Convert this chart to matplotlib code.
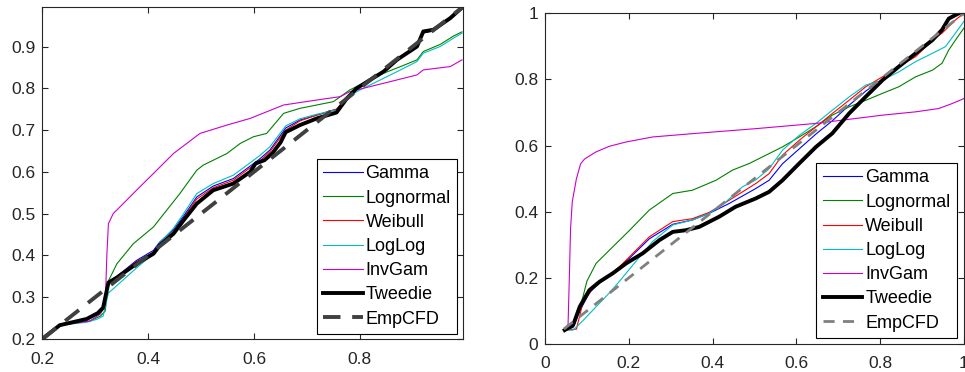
"""
P-P plots of fitted distributions against the empirical CDF (two panels).
"""

import numpy as np
import matplotlib.pyplot as plt

plt.rcParams["font.family"] = ["Liberation Sans", "DejaVu Sans"]

# ------------------------------------------------------------
# Data: left panel
# ------------------------------------------------------------

series_names = ["Gamma", "Lognormal", "Weibull", "LogLog", "InvGam", "Tweedie", "EmpCFD"]

left_x_tw = [0.2, 0.233, 0.284, 0.305, 0.315, 0.325, 0.341, 0.378, 0.41, 0.422, 0.448,
             0.467, 0.492, 0.523, 0.561, 0.593, 0.603, 0.62, 0.635, 0.65, 0.66, 0.687,
             0.719, 0.756, 0.775, 0.794, 0.845, 0.87, 0.908, 0.92, 0.939, 0.971, 0.993]
left_tweedie = [0.2, 0.233, 0.248, 0.262, 0.275, 0.335, 0.347, 0.38, 0.404, 0.424, 0.452,
                0.484, 0.524, 0.556, 0.572, 0.6, 0.62, 0.628, 0.645, 0.67, 0.695, 0.712,
                0.728, 0.742, 0.775, 0.8, 0.84, 0.868, 0.9, 0.936, 0.94, 0.968, 0.993]

left_x_fit = [0.2, 0.233, 0.284, 0.305, 0.315, 0.325, 0.341, 0.378, 0.41, 0.422, 0.448,
              0.467, 0.492, 0.523, 0.561, 0.593, 0.61, 0.63, 0.66, 0.687, 0.719, 0.756,
              0.775, 0.794, 0.845, 0.87, 0.908, 0.92, 0.939, 0.971, 0.993]
left_gamma = [0.2, 0.233, 0.246, 0.26, 0.272, 0.33, 0.35, 0.388, 0.412, 0.432, 0.462,
              0.494, 0.54, 0.566, 0.584, 0.614, 0.63, 0.652, 0.705, 0.724, 0.736, 0.75,
              0.776, 0.8, 0.838, 0.866, 0.9, 0.932, 0.938, 0.966, 0.991]
left_weibull = [0.2, 0.233, 0.246, 0.26, 0.272, 0.33, 0.35, 0.385, 0.408, 0.428, 0.458,
                0.49, 0.535, 0.562, 0.58, 0.61, 0.625, 0.648, 0.7, 0.722, 0.736, 0.75,
                0.778, 0.802, 0.84, 0.868, 0.9, 0.934, 0.94, 0.967, 0.992]

left_x_ll = [0.2, 0.233, 0.284, 0.305, 0.315, 0.325, 0.341, 0.378, 0.41, 0.422, 0.448,
             0.467, 0.492, 0.523, 0.561, 0.593, 0.61, 0.63, 0.66, 0.687, 0.719, 0.756,
             0.775, 0.794, 0.845, 0.877, 0.908, 0.92, 0.952, 0.977, 0.993]
left_loglog = [0.2, 0.233, 0.24, 0.248, 0.255, 0.31, 0.328, 0.37, 0.404, 0.43, 0.465,
               0.5, 0.548, 0.572, 0.592, 0.622, 0.638, 0.66, 0.71, 0.727, 0.738, 0.748,
               0.772, 0.792, 0.824, 0.844, 0.864, 0.884, 0.9, 0.92, 0.932]

left_x_ln = [0.2, 0.233, 0.29, 0.31, 0.319, 0.325, 0.341, 0.372, 0.41, 0.435, 0.46,
             0.492, 0.504, 0.549, 0.574, 0.599, 0.624, 0.656, 0.687, 0.75, 0.781, 0.845,
             0.877, 0.908, 0.92, 0.952, 0.977, 0.993]
left_lognormal = [0.2, 0.233, 0.243, 0.255, 0.267, 0.339, 0.38, 0.428, 0.468, 0.508, 0.548,
                  0.604, 0.616, 0.644, 0.668, 0.684, 0.692, 0.74, 0.752, 0.768, 0.796, 0.836,
                  0.852, 0.868, 0.888, 0.905, 0.925, 0.935]

left_x_ig = [0.2, 0.233, 0.29, 0.31, 0.319, 0.322, 0.325, 0.334, 0.353, 0.378, 0.41,
             0.448, 0.473, 0.498, 0.549, 0.593, 0.656, 0.719, 0.763, 0.781, 0.845, 0.908,
             0.92, 0.971, 0.993]
left_invgam = [0.2, 0.233, 0.243, 0.26, 0.283, 0.4, 0.476, 0.5, 0.524, 0.556, 0.596,
               0.644, 0.668, 0.692, 0.712, 0.728, 0.76, 0.772, 0.78, 0.792, 0.812, 0.832,
               0.844, 0.852, 0.868]

left_emp = [0.2, 0.995]

# ------------------------------------------------------------
# Data: right panel
# ------------------------------------------------------------

right_x_tw = [0.047, 0.067, 0.083, 0.106, 0.13, 0.162, 0.194, 0.233, 0.273, 0.305, 0.336,
              0.368, 0.416, 0.455, 0.503, 0.535, 0.567, 0.607, 0.647, 0.686, 0.726, 0.766,
              0.806, 0.845, 0.885, 0.925, 0.948, 0.964, 0.988, 1.0]
right_tweedie = [0.042, 0.057, 0.113, 0.163, 0.188, 0.214, 0.244, 0.274, 0.314, 0.339, 0.344,
                 0.354, 0.385, 0.415, 0.44, 0.46, 0.495, 0.546, 0.596, 0.637, 0.697, 0.748,
                 0.798, 0.839, 0.879, 0.919, 0.95, 0.984, 1.0, 1.0]

right_x_ga = [0.047, 0.067, 0.083, 0.106, 0.13, 0.162, 0.202, 0.249, 0.305, 0.352, 0.392,
              0.44, 0.503, 0.535, 0.567, 0.607, 0.647, 0.686, 0.726, 0.766, 0.806, 0.845,
              0.885, 0.925, 0.948, 0.964, 0.988, 1.0]
right_gamma = [0.042, 0.05, 0.1, 0.155, 0.185, 0.214, 0.26, 0.318, 0.362, 0.375, 0.395,
               0.425, 0.47, 0.495, 0.545, 0.59, 0.635, 0.675, 0.722, 0.765, 0.8, 0.84,
               0.879, 0.919, 0.948, 0.98, 1.0, 1.0]

right_x_wb = [0.047, 0.075, 0.09, 0.122, 0.162, 0.202, 0.249, 0.305, 0.352, 0.392, 0.44,
              0.503, 0.535, 0.567, 0.607, 0.647, 0.686, 0.726, 0.766, 0.806, 0.845, 0.885,
              0.925, 0.948, 0.98, 1.0]
right_weibull = [0.042, 0.045, 0.123, 0.183, 0.214, 0.264, 0.324, 0.37, 0.379, 0.398, 0.435,
                 0.485, 0.515, 0.571, 0.616, 0.657, 0.697, 0.737, 0.778, 0.808, 0.839, 0.869,
                 0.919, 0.94, 0.98, 1.0]

right_x_ll = [0.047, 0.067, 0.09, 0.12, 0.154, 0.178, 0.217, 0.257, 0.305, 0.352, 0.392,
              0.432, 0.471, 0.503, 0.535, 0.567, 0.607, 0.647, 0.686, 0.726, 0.766, 0.806,
              0.845, 0.885, 0.925, 0.956, 0.98, 1.0]
right_loglog = [0.042, 0.042, 0.07, 0.11, 0.155, 0.19, 0.25, 0.31, 0.36, 0.375, 0.395,
                0.43, 0.475, 0.496, 0.53, 0.586, 0.631, 0.667, 0.707, 0.747, 0.783, 0.798,
                0.823, 0.854, 0.879, 0.899, 0.94, 0.975]

right_x_ln = [0.047, 0.067, 0.08, 0.09, 0.1, 0.122, 0.154, 0.202, 0.249, 0.305, 0.352,
              0.408, 0.448, 0.488, 0.567, 0.607, 0.647, 0.686, 0.726, 0.766, 0.806, 0.845,
              0.885, 0.925, 0.948, 0.964, 0.98, 1.0]
right_lognormal = [0.042, 0.06, 0.1, 0.14, 0.19, 0.244, 0.284, 0.344, 0.405, 0.455, 0.465,
                   0.495, 0.526, 0.546, 0.596, 0.626, 0.657, 0.692, 0.717, 0.737, 0.758, 0.778,
                   0.808, 0.828, 0.849, 0.889, 0.919, 0.955]

right_x_ig = [0.047, 0.055, 0.058, 0.061, 0.065, 0.075, 0.085, 0.095, 0.122, 0.154, 0.194,
              0.257, 0.352, 0.502, 0.647, 0.806, 0.885, 0.94, 0.972, 1.0]
right_invgam = [0.042, 0.06, 0.2, 0.35, 0.43, 0.5, 0.545, 0.56, 0.581, 0.598, 0.611,
                0.626, 0.636, 0.651, 0.667, 0.692, 0.702, 0.712, 0.727, 0.742]

right_emp = [0.045, 1.0]

# ------------------------------------------------------------
# Style
# ------------------------------------------------------------

c_gamma = "#0000ff"
c_lognormal = "#008000"
c_weibull = "#ff0000"
c_loglog = "#00bfbf"
c_invgam = "#cc00cc"
c_axis = "#262626"


def style_axes(ax, xticks, xlabels, yticks, ylabels):
    ax.set_xticks(xticks)
    ax.set_xticklabels(xlabels)
    ax.set_yticks(yticks)
    ax.set_yticklabels(ylabels)
    ax.tick_params(direction="in", length=4, width=0.8, top=True, right=True,
                   labelsize=12.5, colors=c_axis)
    ax.tick_params(axis="x", pad=9)
    ax.tick_params(axis="y", pad=5)
    for s in ax.spines.values():
        s.set_color(c_axis)
        s.set_linewidth(0.8)


legend_kw = dict(loc="lower right", borderaxespad=0, fontsize=13, handlelength=2.2,
                 handletextpad=0.15, labelspacing=0.4, borderpad=0.35, fancybox=False,
                 framealpha=1, edgecolor="black")

fig = plt.figure(figsize=(9.65, 3.72), dpi=100)

# ------------------------------------------------------------
# Left panel
# ------------------------------------------------------------

ax1 = fig.add_axes([0.0438, 0.0887, 0.436, 0.893])
ax1.plot(left_x_fit, left_gamma, color=c_gamma, lw=0.8, label=series_names[0])
ax1.plot(left_x_ln, left_lognormal, color=c_lognormal, lw=0.8, label=series_names[1])
ax1.plot(left_x_fit, left_weibull, color=c_weibull, lw=0.8, label=series_names[2])
ax1.plot(left_x_ll, left_loglog, color=c_loglog, lw=0.8, label=series_names[3])
ax1.plot(left_x_ig, left_invgam, color=c_invgam, lw=0.8, label=series_names[4])
ax1.plot(left_x_tw, left_tweedie, color="black", lw=2.8, label=series_names[5])
ax1.plot(left_emp, left_emp, color="#404040", lw=2.8, dashes=(4.5, 3),
         label=series_names[6])
ax1.set_xlim(0.2, 0.995)
ax1.set_ylim(0.2, 0.995)
style_axes(ax1, [0.2, 0.4, 0.6, 0.8], ["0.2", "0.4", "0.6", "0.8"],
           [0.2, 0.3, 0.4, 0.5, 0.6, 0.7, 0.8, 0.9],
           ["0.2", "0.3", "0.4", "0.5", "0.6", "0.7", "0.8", "0.9"])
leg1 = ax1.legend(bbox_to_anchor=(0.986, 0.015), **legend_kw)
leg1.get_frame().set_linewidth(0.8)

# ------------------------------------------------------------
# Right panel
# ------------------------------------------------------------

ax2 = fig.add_axes([0.5648, 0.0753, 0.434, 0.889])
ax2.plot(right_x_ga, right_gamma, color=c_gamma, lw=0.8, label=series_names[0])
ax2.plot(right_x_ln, right_lognormal, color=c_lognormal, lw=0.8, label=series_names[1])
ax2.plot(right_x_wb, right_weibull, color=c_weibull, lw=0.8, label=series_names[2])
ax2.plot(right_x_ll, right_loglog, color=c_loglog, lw=0.8, label=series_names[3])
ax2.plot(right_x_ig, right_invgam, color=c_invgam, lw=0.8, label=series_names[4])
ax2.plot(right_x_tw, right_tweedie, color="black", lw=2.8, label=series_names[5])
ax2.plot(right_emp, right_emp, color="#808080", lw=2.0, dashes=(4, 3),
         label=series_names[6])
ax2.set_xlim(0, 1)
ax2.set_ylim(0, 1)
style_axes(ax2, [0, 0.2, 0.4, 0.6, 0.8, 1], ["0", "0.2", "0.4", "0.6", "0.8", "1"],
           [0, 0.2, 0.4, 0.6, 0.8, 1], ["0", "0.2", "0.4", "0.6", "0.8", "1"])
leg2 = ax2.legend(bbox_to_anchor=(0.983, 0.018), **legend_kw)
leg2.get_frame().set_linewidth(0.8)

fig.savefig("out.png", dpi=100)
